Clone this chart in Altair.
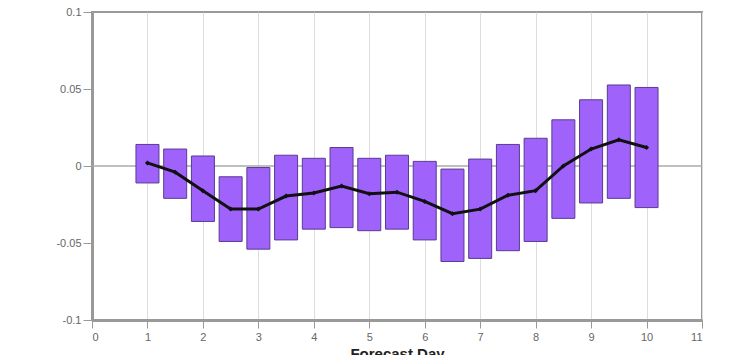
import altair as alt
import pandas as pd

days = [1, 1.5, 2, 2.5, 3, 3.5, 4, 4.5, 5, 5.5, 6, 6.5, 7, 7.5, 8, 8.5, 9, 9.5, 10]
upper = [0.014, 0.011, 0.0065, -0.007, -0.001, 0.007, 0.005, 0.012, 0.005, 0.007, 0.003,
         -0.002, 0.0045, 0.014, 0.018, 0.030, 0.043, 0.0526, 0.051]
lower = [-0.011, -0.021, -0.036, -0.049, -0.054, -0.048, -0.041, -0.040, -0.042, -0.041,
         -0.048, -0.062, -0.060, -0.055, -0.049, -0.034, -0.024, -0.021, -0.027]
mean = [0.002, -0.004, -0.016, -0.028, -0.028, -0.0195, -0.0175, -0.013, -0.018, -0.017,
        -0.023, -0.031, -0.028, -0.019, -0.016, 0.0, 0.011, 0.017, 0.012]

df = pd.DataFrame({"day": days, "upper": upper, "lower": lower, "mean": mean})

xscale = alt.Scale(domain=[0, 11], nice=False, zero=False, padding=0)
yscale = alt.Scale(domain=[-0.1, 0.1], nice=False, padding=0)

xaxis = alt.Axis(values=list(range(0, 12)), title="Forecast Day", grid=True, format="d",
                 gridColor="#dddddd", gridWidth=1, tickSize=8, tickColor="#999999",
                 domainColor="#999999", domainWidth=3, labelColor="#666666",
                 labelFontSize=11, labelPadding=3, titleFontSize=15, titleFontWeight="bold",
                 titleColor="#222222", titlePadding=4, labelFont="Liberation Sans",
                 titleFont="Liberation Sans")
yaxis = alt.Axis(values=[-0.1, -0.05, 0, 0.05, 0.1], title=None, grid=False,
                 labelExpr="datum.value + ''", tickSize=9, tickColor="#999999",
                 domainColor="#999999", domainWidth=3, labelColor="#666666",
                 labelFontSize=11, labelPadding=2, labelFont="Liberation Sans")

base = alt.Chart(df)

bars = base.mark_bar(size=23, color="#9f62fb", stroke="#5b3a93", strokeWidth=1).encode(
    x=alt.X("day:Q", scale=xscale, axis=xaxis),
    y=alt.Y("lower:Q", scale=yscale, axis=yaxis),
    y2="upper:Q",
)

zero = alt.Chart(pd.DataFrame({"z": [0]})).mark_rule(color="#aaaaaa", strokeWidth=1.5).encode(
    y=alt.Y("z:Q", scale=yscale)
)

line = base.mark_line(color="#111111", strokeWidth=3,
                      point=alt.OverlayMarkDef(shape="diamond", size=25, color="#111111")).encode(
    x=alt.X("day:Q", scale=xscale),
    y=alt.Y("mean:Q", scale=yscale),
)

chart = alt.layer(zero, bars, line).properties(
    width=610, height=308,
    autosize=alt.AutoSizeParams(type="none"),
    padding={"left": 84, "top": 4, "right": 30, "bottom": 40},
    background="white",
).configure_view(stroke="#999999", strokeWidth=2)

chart.save("out.html", embed_options={"renderer": "svg", "actions": False})
